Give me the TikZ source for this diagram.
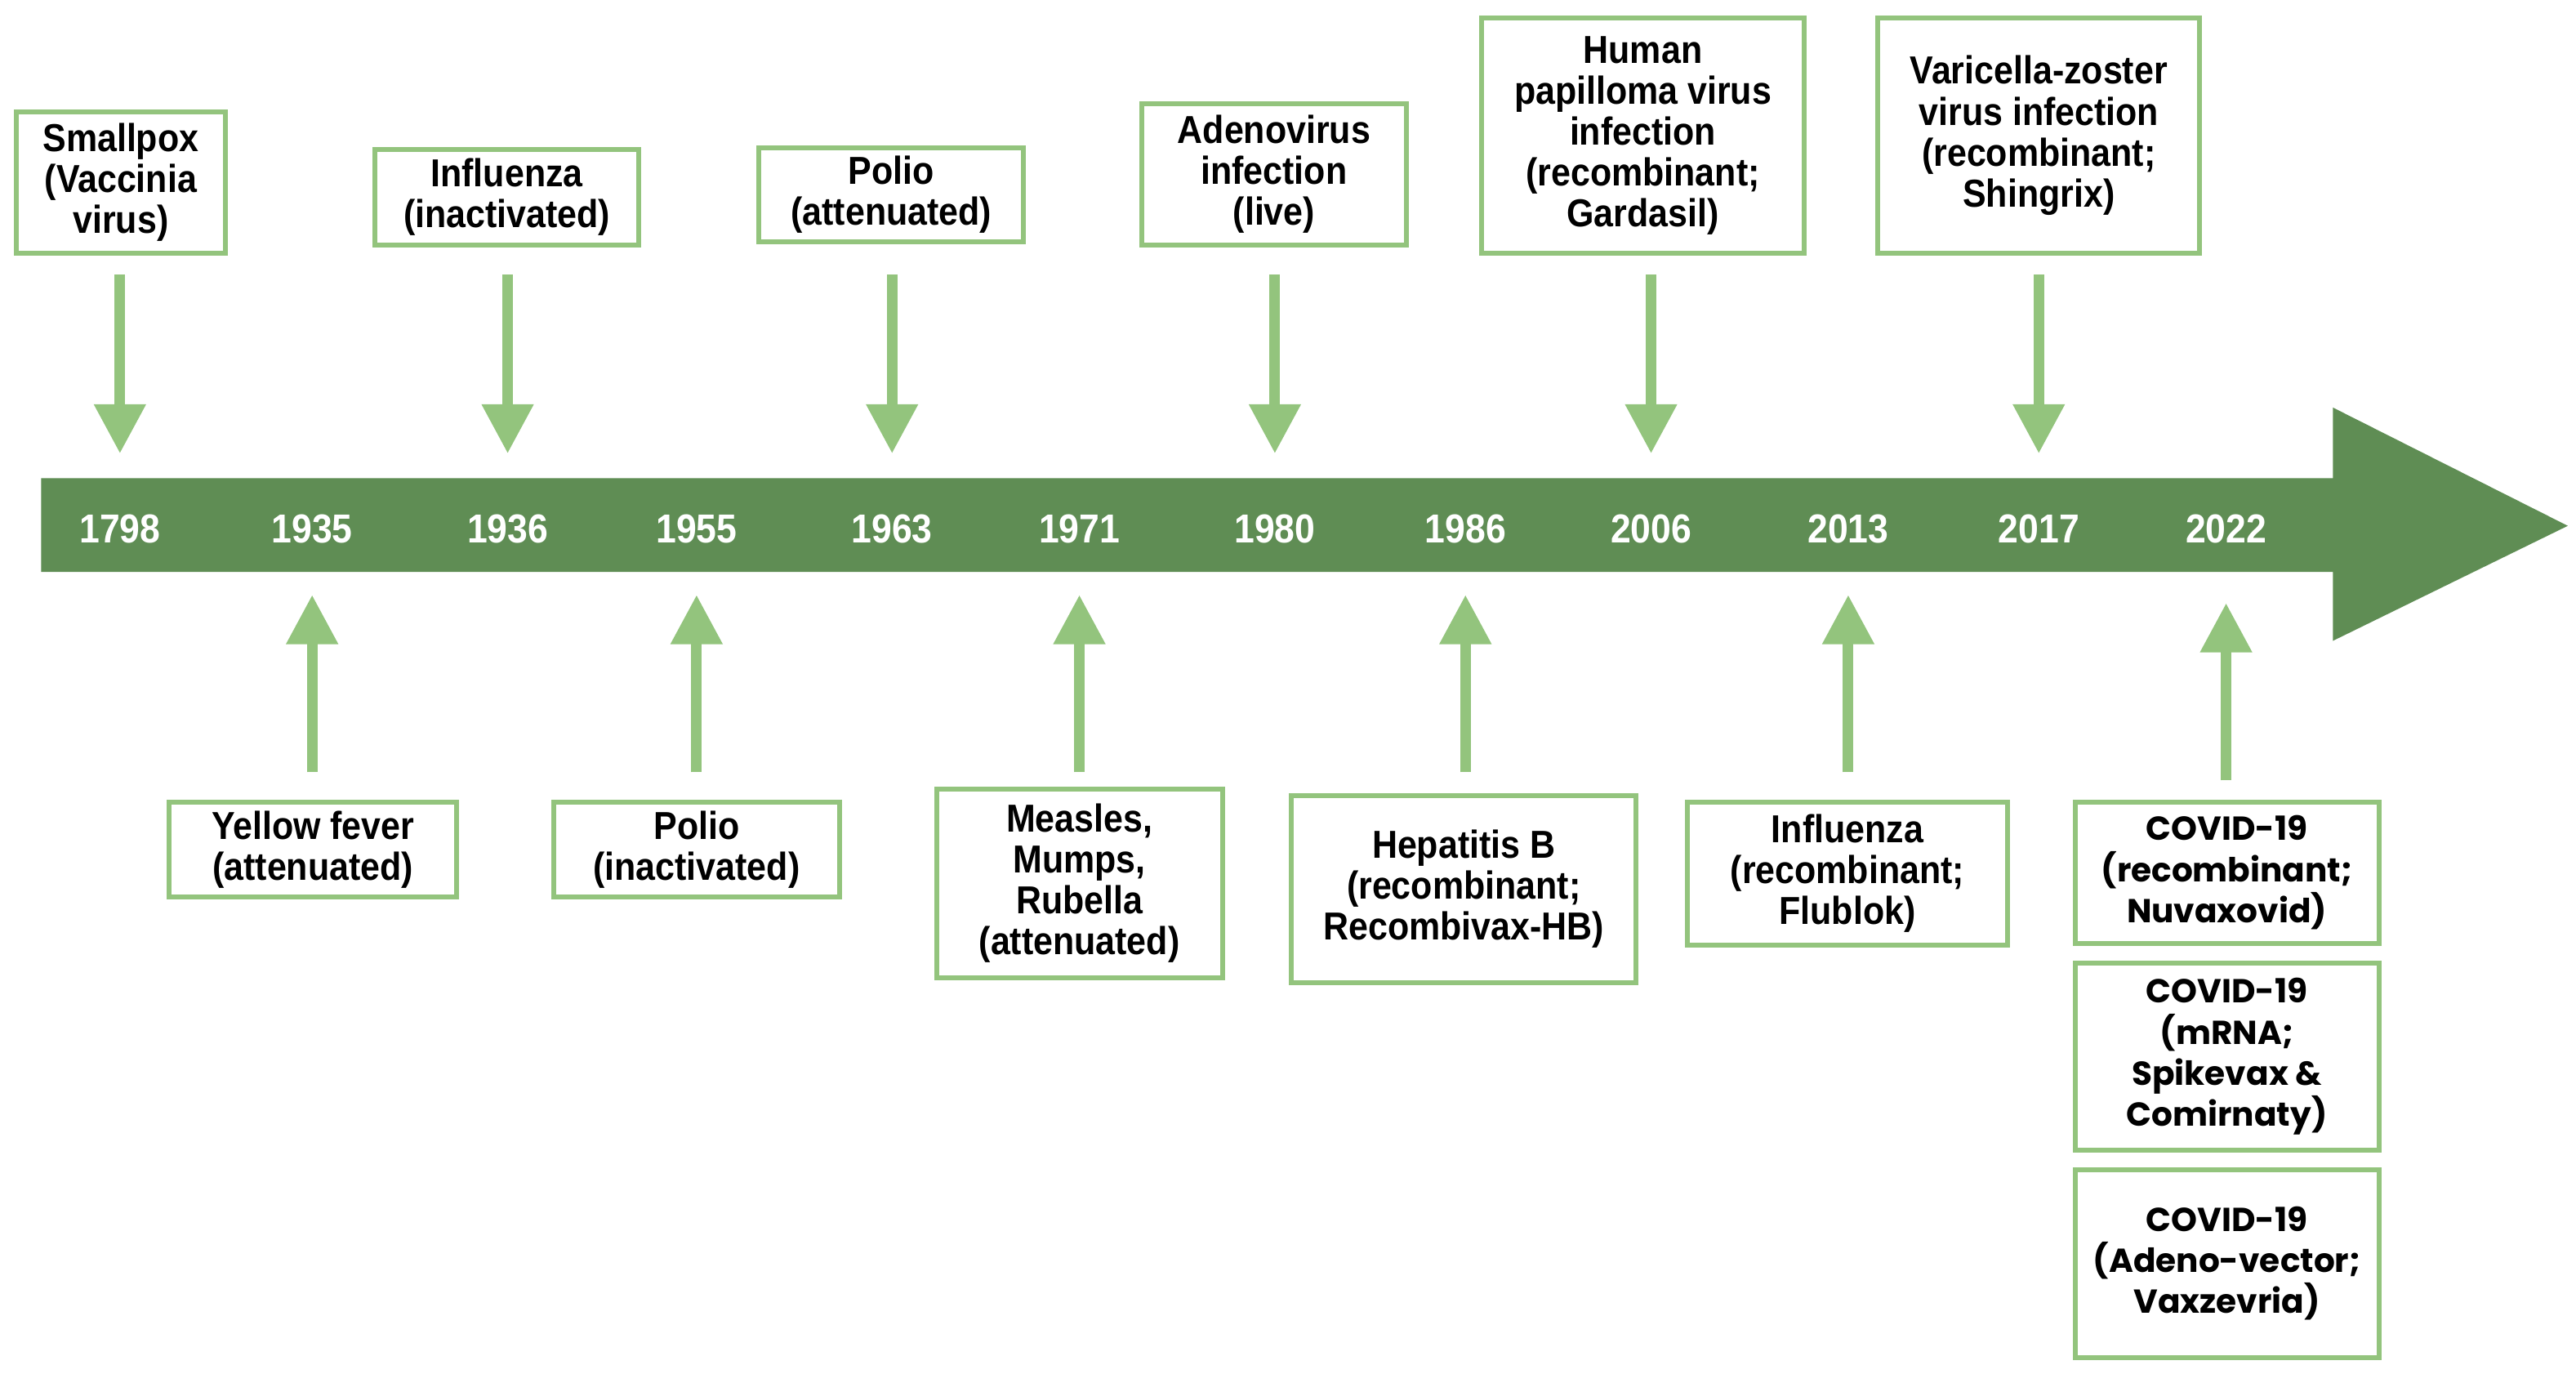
\documentclass[tikz,border=0pt]{standalone}
\usepackage{fontspec}
\usetikzlibrary{arrows.meta}
\newfontfamily\condfont{Liberation Sans}[FakeStretch=0.9]
\newfontfamily\widefont{Poppins}
\definecolor{bargreen}{HTML}{5F8D54}
\definecolor{lightgreen}{HTML}{93C47D}
\begin{document}
\begin{tikzpicture}[x=0.02cm,y=-0.02cm,
  box/.style={draw=lightgreen, line width=1.7pt, fill=white, align=center, inner sep=0pt,
    font=\condfont\bfseries\fontsize{13.5}{14.2}\selectfont, text=black},
  cbox/.style={box, font=\widefont\bfseries\fontsize{11.5}{14.2}\selectfont},
  year/.style={font=\condfont\bfseries\fontsize{14}{16}\selectfont, text=white, inner sep=0pt},
  conn/.style={draw=lightgreen, line width=0.13cm, -{Triangle[width=0.6cm,length=0.6cm]}}
]
\useasboundingbox (0,0) rectangle (1568,841.2);
% timeline bar
\fill[bargreen] (25,291) -- (1420,291) -- (1420,248) -- (1563,320) -- (1420,390) -- (1420,348) -- (25,348) -- cycle;
% years
\foreach \yr/\xx in {1798/73,1935/190,1936/309,1955/424,1963/543,1971/657,1980/776,1986/892,2006/1005,2013/1125,2017/1241,2022/1355}
  \node[year] (y\yr) at (\xx,322) {\yr};
% top boxes
\node[box, minimum width=127*0.02cm, minimum height=86*0.02cm] (t1) at (73.5,111) {Smallpox\\(Vaccinia\\virus)};
\node[box, minimum width=161*0.02cm, minimum height=58*0.02cm] (t2) at (308.5,120) {Influenza\\(inactivated)};
\node[box, minimum width=161*0.02cm, minimum height=57*0.02cm] (t3) at (542.5,118.5) {Polio\\(attenuated)};
\node[box, minimum width=161*0.02cm, minimum height=86*0.02cm] (t4) at (775.5,106) {Adenovirus\\infection\\(live)};
\node[box, minimum width=196*0.02cm, minimum height=143*0.02cm] (t5) at (1000,82.5) {Human\\papilloma virus\\infection\\(recombinant;\\Gardasil)};
\node[box, minimum width=196*0.02cm, minimum height=143*0.02cm] (t6) at (1241,82.5) {Varicella-zoster\\virus infection\\(recombinant;\\Shingrix)};
% bottom boxes
\node[box, minimum width=175*0.02cm, minimum height=58*0.02cm] (b1) at (190.5,517) {Yellow fever\\(attenuated)};
\node[box, minimum width=174*0.02cm, minimum height=58*0.02cm] (b2) at (424,517) {Polio\\(inactivated)};
\node[box, minimum width=174*0.02cm, minimum height=115*0.02cm] (b3) at (657,537.5) {Measles,\\Mumps,\\Rubella\\(attenuated)};
\node[box, minimum width=210*0.02cm, minimum height=114*0.02cm] (b4) at (891,541) {Hepatitis B\\(recombinant;\\Recombivax-HB)};
\node[box, minimum width=195*0.02cm, minimum height=87*0.02cm] (b5) at (1124.5,531.5) {Influenza\\(recombinant;\\Flublok)};
\node[cbox, minimum width=185*0.02cm, minimum height=86*0.02cm] (c1) at (1355.5,531) {COVID-19\\(recombinant;\\Nuvaxovid)};
\node[cbox, minimum width=185*0.02cm, minimum height=114*0.02cm] (c2) at (1355.5,643) {COVID-19\\(mRNA;\\Spikevax \&\\Comirnaty)};
\node[cbox, minimum width=185*0.02cm, minimum height=114*0.02cm] (c3) at (1355.5,769) {COVID-19\\(Adeno-vector;\\Vaxzevria)};
% top connectors
\foreach \bx/\yr in {t1/1798,t2/1936,t3/1963,t4/1980,t5/2006,t6/2017}
  \draw[conn] (y\yr |- 0,167) -- (y\yr |- 0,276);
% bottom connectors
\foreach \bx/\yr in {b1/1935,b2/1955,b3/1971,b4/1986,b5/2013}
  \draw[conn] (y\yr |- 0,470) -- (y\yr |- 0,362);
\draw[conn] (y2022 |- 0,475) -- (y2022 |- 0,367);
\end{tikzpicture}
\end{document}
